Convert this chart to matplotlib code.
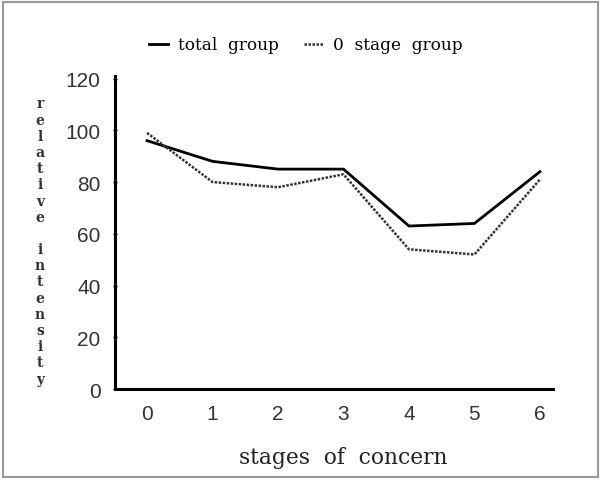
import matplotlib.pyplot as plt
from matplotlib.patches import Rectangle

stages = [0, 1, 2, 3, 4, 5, 6]
total_group = [96, 88, 85, 85, 63, 64, 84]
stage0_group = [99, 80, 78, 83, 54, 52, 81]
yticks = [0, 20, 40, 60, 80, 100, 120]

fig = plt.figure(figsize=(6.03, 4.81), dpi=100)
ax = fig.add_axes([115/603, 1-390/481, (553-115)/603, (390-77)/481])

ax.plot(stages, total_group, color='black', lw=2.0, label='total  group')
ax.plot(stages, stage0_group, color='#333333', lw=1.8, linestyle=(0, (1.0, 0.6)),
        label='0  stage  group')

ax.set_xlim(-0.49, 6.2)
ax.set_ylim(0, 121)
ax.set_xticks(stages)
ax.set_yticks(yticks)
for s in ['top', 'right']:
    ax.spines[s].set_visible(False)
for s in ['left', 'bottom']:
    ax.spines[s].set_linewidth(2.2)
ax.tick_params(axis='x', length=0, pad=11)
ax.tick_params(axis='y', length=3, direction='inout', width=1, pad=9)
for lab in ax.get_xticklabels() + ax.get_yticklabels():
    lab.set_fontfamily('Liberation Sans')
    lab.set_fontsize(15)
    lab.set_color('#333333')

ax.set_xlabel('stages  of  concern', family='DejaVu Serif', fontsize=15.7,
              color='#222222', va='center')
ax.xaxis.set_label_coords((343-115)/438, -(458-390)/313)

ylab = 'relative intensity'
fig.text(40/603, 1-242/481, '\n'.join(ylab), family='DejaVu Serif', fontsize=10,
         fontweight='bold', ha='center', va='center', linespacing=1.2, color='#333333')

fig.legend(loc='center', bbox_to_anchor=(306/603, 1-46/481), ncol=2, frameon=False,
           prop={'family': 'DejaVu Serif', 'size': 12.2}, handlelength=1.1,
           handletextpad=0.6, columnspacing=1.5)

fig.patches.append(Rectangle((3/603, 3/481), 595/603, 475/481, transform=fig.transFigure,
                             fill=False, edgecolor='#999999', lw=1.5))

fig.savefig('out.png', dpi=100)
